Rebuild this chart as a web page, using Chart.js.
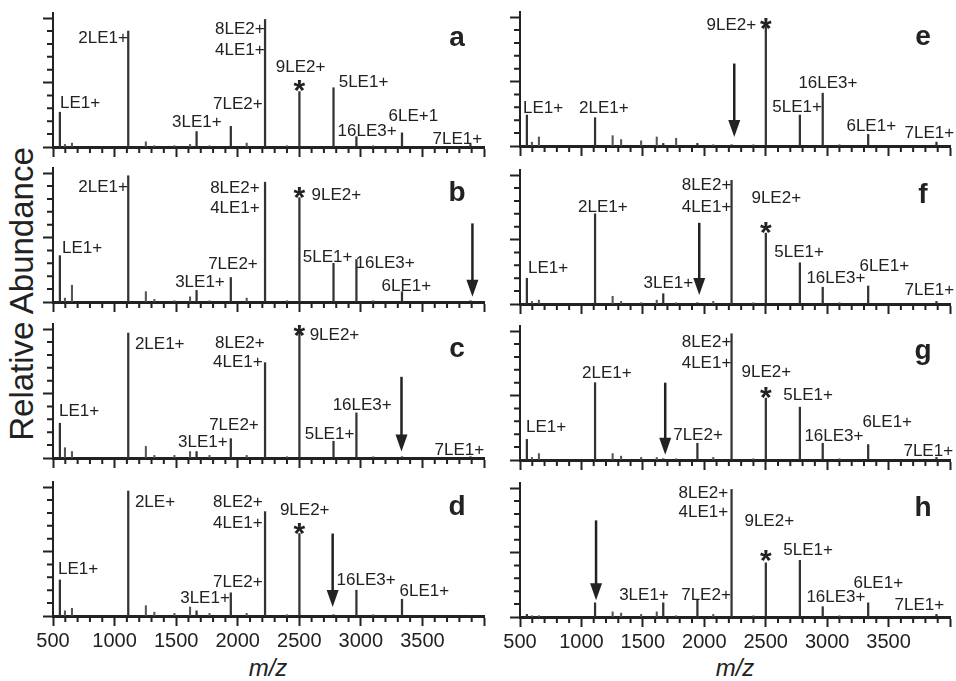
<!DOCTYPE html>
<html>
<head>
<meta charset="utf-8">
<script src="https://cdn.jsdelivr.net/npm/chart.js@4.4.0/dist/chart.umd.min.js"></script>
<style>
  body { margin: 0; background: #fff; width: 956px; height: 681px; position: relative; overflow: hidden;
         font-family: "Liberation Sans", Arial, sans-serif; color: #222; }
  #ylab { position: absolute; left: 22px; top: 294px; transform: translate(-50%, -50%) rotate(-90deg);
          font-size: 33px; white-space: nowrap; }
  .mz { position: absolute; top: 668px; transform: translate(-50%, -50%); font-size: 24px; font-style: italic; }
</style>
</head>
<body>
<div id="ylab">Relative Abundance</div>
<div class="mz" style="left:268px">m/z</div>
<div class="mz" style="left:735px">m/z</div>
<script>
const ink = "#222";

// ion positions (m/z) and names
const ionMz   = [556, 1111, 1666, 1944, 2222, 2501, 2778, 2964, 3334, 3890];
const minorMz = [597, 654, 1254, 1323, 1486, 1613, 1771, 2073, 2400, 3100];
const mzTicks = ["500", "1000", "1500", "2000", "2500", "3000", "3500"];

// relative abundance of the main ions, panel by panel
const heightsA = [27, 90, 12, 16, 99, 43, 46, 8, 11, 2];
const heightsB = [36, 98, 9, 19, 93, 81, 30, 33, 8, 1];
const heightsC = [27, 97, 5, 15, 74, 99, 13, 35, 1, 1];
const heightsD = [28, 97, 4, 18, 81, 64, 1, 20, 13, 0.5];
const heightsE = [24, 22, 2, 2, 1, 96, 24, 41, 9, 3];
const heightsF = [20, 70, 8, 1, 96, 55, 32, 13, 14, 2];
const heightsG = [16, 60, 1, 13, 98, 48, 41, 13, 12, 2];
const heightsH = [2, 11, 11, 13, 99, 42, 44, 8, 11, 2];

// small side peaks
const minorA = [2, 3, 4, 1, 1, 2, 1, 3, 1, 1];
const minorB = [3, 13, 8, 2, 1, 4, 1, 3, 1, 1];
const minorC = [8, 5, 9, 2, 2, 5, 2, 2, 1, 1];
const minorD = [4, 6, 8, 3, 2, 7, 2, 2, 1, 1];
const minorE = [3, 7, 8, 5, 4, 7, 6, 1, 1, 1];
const minorF = [2, 3, 6, 2, 1, 3, 1, 2, 1, 1];
const minorG = [2, 5, 5, 3, 2, 2, 1, 2, 1, 1];
const minorH = [1, 1, 4, 3, 2, 4, 1, 2, 1, 1];

// peak labels: text, m/z, abundance, align
const labelsA = [["LE1+", 557, 34, "left"], ["2LE1+", 1108, 84, "right"], ["8LE2+", 2219, 91, "right"],
  ["4LE1+", 2219, 75, "right"], ["9LE2+", 2511, 62, "center"], ["5LE1+", 2820, 50, "left"],
  ["7LE2+", 2203, 33, "right"], ["3LE1+", 1870, 19, "right"], ["6LE+1", 3225, 24, "left"],
  ["16LE3+", 2811, 12, "left"], ["7LE1+", 3582, 6, "left"]];
const labelsB = [["LE1+", 573, 42, "left"], ["2LE1+", 1108, 89, "right"], ["8LE2+", 2179, 88, "right"],
  ["4LE1+", 2179, 73, "right"], ["9LE2+", 2600, 83, "left"], ["5LE1+", 2528, 35, "left"],
  ["16LE3+", 2957, 30, "left"], ["7LE2+", 2163, 29, "right"], ["3LE1+", 1895, 15, "right"],
  ["6LE1+", 3168, 12, "left"]];
const labelsC = [["LE1+", 549, 36, "left"], ["2LE1+", 1165, 88, "left"], ["8LE2+", 2219, 89, "right"],
  ["4LE1+", 2203, 74, "right"], ["9LE2+", 2584, 95, "left"], ["16LE3+", 2771, 41, "left"],
  ["7LE2+", 2171, 25, "right"], ["3LE1+", 1919, 12, "right"], ["5LE1+", 2544, 18, "left"],
  ["7LE1+", 3598, 6, "left"]];
const labelsD = [["LE1+", 541, 36, "left"], ["2LE+", 1165, 88, "left"], ["8LE2+", 2203, 88, "right"],
  ["4LE1+", 2203, 72, "right"], ["9LE2+", 2544, 82, "center"], ["7LE2+", 2203, 26, "right"],
  ["3LE1+", 1936, 14, "right"], ["16LE3+", 2803, 28, "left"], ["6LE1+", 3314, 19, "left"]];
const labelsE = [["LE1+", 524, 29, "left"], ["2LE1+", 981, 29, "left"], ["9LE2+", 2423, 94, "right"],
  ["16LE3+", 2766, 49, "left"], ["5LE1+", 2554, 30, "left"], ["6LE1+", 3157, 15, "left"],
  ["7LE1+", 3630, 10, "left"]];
const labelsF = [["LE1+", 565, 28, "left"], ["2LE1+", 973, 75, "left"], ["8LE2+", 2220, 92, "right"],
  ["4LE1+", 2220, 75, "right"], ["9LE2+", 2586, 82, "center"], ["5LE1+", 2570, 40, "left"],
  ["16LE3+", 2831, 20, "left"], ["6LE1+", 3263, 29, "left"], ["3LE1+", 1910, 16, "right"],
  ["7LE1+", 3630, 11, "left"]];
const labelsG = [["LE1+", 549, 25, "left"], ["2LE1+", 1005, 67, "left"], ["8LE2+", 2220, 91, "right"],
  ["4LE1+", 2220, 75, "right"], ["9LE2+", 2505, 68, "center"], ["5LE1+", 2643, 50, "left"],
  ["7LE2+", 1747, 19, "left"], ["16LE3+", 2815, 18, "left"], ["6LE1+", 3287, 29, "left"],
  ["7LE1+", 3621, 7, "left"]];
const labelsH = [["8LE2+", 2195, 96, "right"], ["4LE1+", 2195, 81, "right"], ["9LE2+", 2529, 74, "center"],
  ["5LE1+", 2643, 52, "left"], ["3LE1+", 1307, 17, "left"], ["7LE2+", 1812, 17, "left"],
  ["6LE1+", 3214, 26, "left"], ["16LE3+", 2831, 15, "left"], ["7LE1+", 3548, 9, "left"]];

// panel layout
const cols = [{ left: 0, axisX: 53, right: 484 }, { left: 476, axisX: 520, right: 950 }];
const panels = [
  { tag: "a", col: 0, base: 147, h: heightsA, m: minorA, labels: labelsA, star: [2501, 50],  arrow: null },
  { tag: "b", col: 0, base: 302, h: heightsB, m: minorB, labels: labelsB, star: [2501, 87],  arrow: [3906, 61, 4] },
  { tag: "c", col: 0, base: 458, h: heightsC, m: minorC, labels: labelsC, star: [2501, 101], arrow: [3330, 63, 5] },
  { tag: "d", col: 0, base: 616, h: heightsD, m: minorD, labels: labelsD, star: [2501, 70],  arrow: [2771, 64, 7] },
  { tag: "e", col: 1, base: 146, h: heightsE, m: minorE, labels: labelsE, star: [2501, 97],  arrow: [2244, 64, 7] },
  { tag: "f", col: 1, base: 304, h: heightsF, m: minorF, labels: labelsF, star: [2501, 61],  arrow: [1959, 63, 7] },
  { tag: "g", col: 1, base: 460, h: heightsG, m: minorG, labels: labelsG, star: [2501, 54],  arrow: [1682, 60, 4] },
  { tag: "h", col: 1, base: 617, h: heightsH, m: minorH, labels: labelsH, star: [2501, 50],  arrow: [1119, 75, 13] },
];

const decor = {
  id: "decor",
  afterDraw(chart, args, o) {
    const { ctx, chartArea: a, scales: { x, y } } = chart;
    ctx.save();
    ctx.strokeStyle = ink;
    ctx.fillStyle = ink;
    ctx.lineWidth = 2;
    ctx.beginPath();
    for (let v = 600; v < 4000; v += 100) {
      if (v % 500 === 0) continue;
      const px = x.getPixelForValue(v);
      ctx.moveTo(px, a.bottom); ctx.lineTo(px, a.bottom + 6);
    }
    for (let v = 10; v < 100; v += 10) {
      if (v % 50 === 0) continue;
      const py = y.getPixelForValue(v);
      ctx.moveTo(a.left - 6, py); ctx.lineTo(a.left, py);
    }
    ctx.stroke();

    ctx.font = '17px "Liberation Sans", Arial, sans-serif';
    ctx.textBaseline = "middle";
    o.labels.forEach(([t, mz, v, al]) => {
      ctx.textAlign = al;
      ctx.fillText(t, x.getPixelForValue(mz), y.getPixelForValue(v));
    });

    if (o.star) {
      ctx.font = 'bold 30px "Liberation Sans", Arial, sans-serif';
      ctx.textAlign = "center";
      ctx.textBaseline = "alphabetic";
      ctx.fillText("*", x.getPixelForValue(o.star[0]), y.getPixelForValue(o.star[1]) + 17);
    }

    if (o.arrow) {
      const px = x.getPixelForValue(o.arrow[0]);
      const top = y.getPixelForValue(o.arrow[1]);
      const tip = y.getPixelForValue(o.arrow[2]);
      ctx.lineWidth = 2.5;
      ctx.beginPath(); ctx.moveTo(px, top); ctx.lineTo(px, tip - 12); ctx.stroke();
      ctx.beginPath();
      ctx.moveTo(px - 6, tip - 17); ctx.lineTo(px + 6, tip - 17); ctx.lineTo(px, tip);
      ctx.closePath(); ctx.fill();
    }

    ctx.font = 'bold 28px "Liberation Sans", Arial, sans-serif';
    ctx.textAlign = "center";
    ctx.textBaseline = "middle";
    ctx.fillText(o.tag, a.right - 27, y.getPixelForValue(84));
    ctx.restore();
  }
};

panels.forEach((p, i) => {
  const col = cols[p.col];
  const bottomRow = i % 4 === 3;
  const xh = bottomRow ? 40 : 12;
  const top = p.base - 134 - 4;
  const w = col.right + 6 - col.left;
  const hgt = 4 + 134 + xh;
  const c = document.createElement("canvas");
  c.width = w; c.height = hgt;
  c.style.cssText = `position:absolute;left:${col.left}px;top:${top}px;width:${w}px;height:${hgt}px`;
  document.body.appendChild(c);

  new Chart(c, {
    type: "bar",
    data: {
      datasets: [
        { data: ionMz.map((mz, k) => ({ x: mz, y: p.h[k] })), backgroundColor: "#333", barThickness: 1.6, grouped: false },
        { data: minorMz.map((mz, k) => ({ x: mz, y: p.m[k] })), backgroundColor: "#555", barThickness: 1.4, grouped: false }
      ]
    },
    options: {
      responsive: false,
      animation: false,
      devicePixelRatio: 1,
      layout: { padding: { top: 4, left: 0, bottom: 0, right: w - (col.right - col.left) } },
      plugins: {
        legend: { display: false },
        tooltip: { enabled: false },
        decor: { tag: p.tag, labels: p.labels, star: p.star, arrow: p.arrow }
      },
      scales: {
        x: {
          type: "linear", min: 500, max: 4000, offset: false,
          afterFit: s => { s.height = xh; },
          grid: { offset: false, drawOnChartArea: false, tickLength: 10, tickWidth: 2, tickColor: ink },
          border: { color: ink, width: 3 },
          ticks: {
            display: bottomRow, stepSize: 500, autoSkip: false, maxRotation: 0, padding: 3,
            color: ink, font: { family: '"Liberation Sans", Arial, sans-serif', size: 20 },
            callback: v => mzTicks.includes(String(v)) ? String(v) : ""
          }
        },
        y: {
          min: 0, max: 104,
          afterFit: s => { s.width = col.axisX - col.left; },
          grid: { drawOnChartArea: false, tickLength: 10, tickWidth: 2, tickColor: ink },
          border: { color: ink, width: 2 },
          ticks: { display: false, stepSize: 50, includeBounds: false }
        }
      }
    },
    plugins: [decor]
  });
});
</script>
</body>
</html>
